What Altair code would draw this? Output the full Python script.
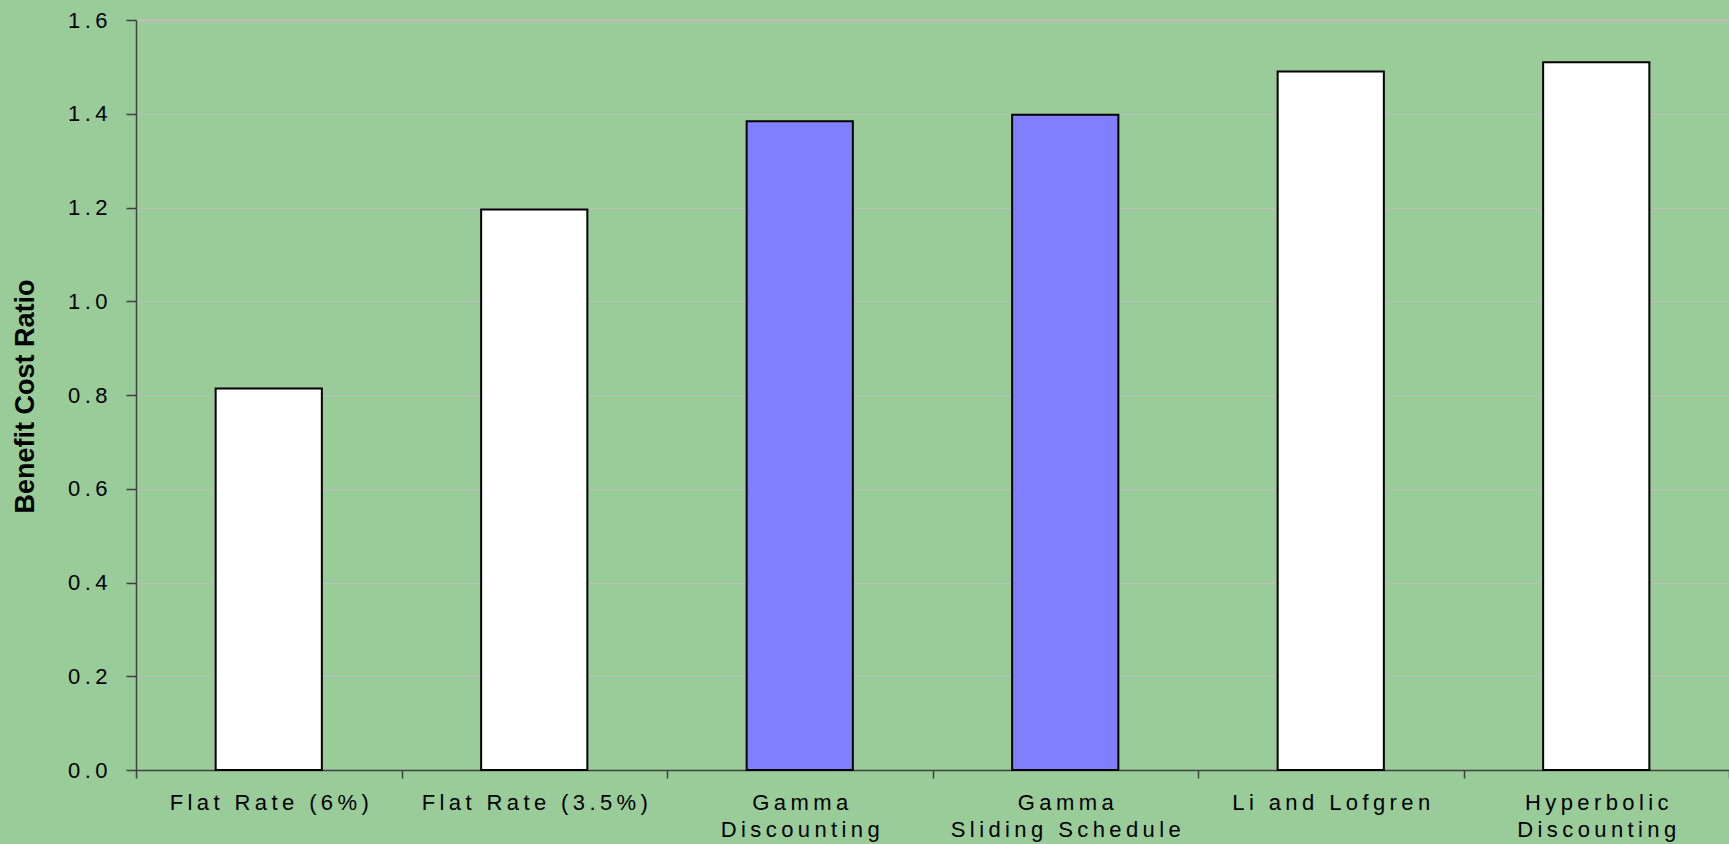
import altair as alt
import pandas as pd

methods = [
    "Flat Rate (6%)",
    "Flat Rate (3.5%)",
    "Gamma\nDiscounting",
    "Gamma\nSliding Schedule",
    "Li and Lofgren",
    "Hyperbolic\nDiscounting",
]
ratios = [0.814, 1.196, 1.384, 1.398, 1.490, 1.510]
groups = ["standard", "standard", "gamma", "gamma", "standard", "standard"]
y_ticks = [0.0, 0.2, 0.4, 0.6, 0.8, 1.0, 1.2, 1.4, 1.6]

df = pd.DataFrame({"method": methods, "ratio": ratios, "group": groups})

SP = "\u2009"
spaced = "replace(datum.label, regexp('(.)(?=.)', 'g'), '$1" + SP + "')"

label_font = "Liberation Sans, Arial"

chart = (
    alt.Chart(df)
    .mark_bar(width=alt.RelativeBandSize(0.4), stroke="black", strokeWidth=2)
    .encode(
        x=alt.X(
            "method:N",
            sort=methods,
            scale=alt.Scale(paddingInner=0, paddingOuter=0),
            axis=alt.Axis(
                title=None,
                labelAngle=0,
                labelExpr="split(" + spaced + ", '\\n')",
                labelFont=label_font,
                labelFontSize=22,
                labelColor="black",
                labelLimit=0,
                labelPadding=14,
                labelLineHeight=27,
                tickBand="extent",
                tickSize=8,
                tickColor="#404040",
                tickWidth=1.5,
                domainColor="#404040",
                domainWidth=1.5,
                grid=False,
            ),
        ),
        y=alt.Y(
            "ratio:Q",
            scale=alt.Scale(domain=[0, 1.6], nice=False),
            axis=alt.Axis(
                title="Benefit Cost Ratio",
                values=y_ticks,
                format=".1f",
                labelExpr=spaced,
                labelFont=label_font,
                labelFontSize=22,
                labelColor="black",
                labelPadding=19,
                tickSize=10,
                tickColor="#404040",
                tickWidth=1.5,
                domainColor="#404040",
                domainWidth=1.5,
                grid=True,
                gridColor="#BDBDBD",
                gridWidth={"condition": {"test": "datum.value >= 1.6", "value": 2.5}, "value": 1},
                titleFont="Liberation Sans, Arial",
                titleFontWeight="bold",
                titleFontSize=27,
                titleColor="black",
                titleAngle=270,
                titleAlign="center",
                titleBaseline="middle",
                titleX=-111,
                titleY=376,
            ),
        ),
        color=alt.Color(
            "group:N",
            scale=alt.Scale(domain=["standard", "gamma"], range=["#FFFFFF", "#8080FF"]),
            legend=None,
        ),
    )
    .properties(
        width=1593,
        height=750,
        background="#99CC99",
        autosize=alt.AutoSizeParams(type="none"),
        padding={"left": 136, "top": 20, "right": 0, "bottom": 74},
    )
    .configure_view(stroke=None, fill="#99CC99")
)

chart.save("out.html", embed_options={"renderer": "svg", "actions": False})
